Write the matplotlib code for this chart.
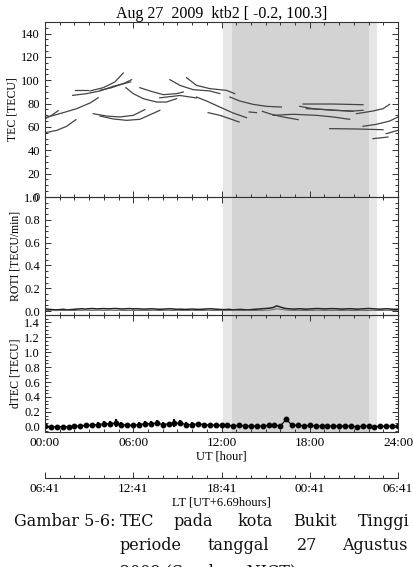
import numpy as np
import matplotlib
matplotlib.use('Agg')
import matplotlib.pyplot as plt
from matplotlib.ticker import MultipleLocator

plt.rcParams['font.family'] = ['Liberation Serif', 'DejaVu Serif']

# TEC arcs: hours UT, TEC [TECU]
arc_t = [
    [0.0, 0.45, 0.9],
    [0.0, 1.0, 2.15, 3.06, 3.62],
    [0.0, 0.8, 1.47, 2.1],
    [2.04, 2.94],
    [1.88, 2.83, 3.74, 4.64, 5.32, 5.82],
    [3.06, 3.96, 4.75, 5.32],
    [3.74, 4.53, 5.32, 5.89],
    [5.5, 6.0, 6.68, 7.58, 8.26, 8.94],
    [6.45, 7.13, 8.04, 8.94, 9.4],
    [7.8, 9.17, 10.3],
    [8.49, 9.17, 10.07, 11.2, 11.89],
    [9.62, 10.3, 11.2, 12.34, 12.9],
    [10.3, 10.98, 11.89, 12.79, 13.7],
    [11.09, 11.89, 12.57, 13.2],
    [12.57, 13.24, 14.15, 15.06, 16.07],
    [13.88, 14.38],
    [14.78, 15.39, 16.19, 17.21],
    [15.51, 16.87, 18.45, 19.58, 20.71],
    [17.32, 18.22, 19.58, 20.94, 21.62],
    [17.55, 19.58, 21.62],
    [17.77, 19.13, 20.94],
    [19.36, 21.17, 22.98],
    [21.17, 22.3, 22.98, 23.43],
    [21.62, 22.53, 23.43, 24.0],
    [22.3, 23.32],
    [23.2, 24.0],
    [3.28, 4.19, 5.09, 6.0, 6.79],
    [3.74, 4.64, 5.55, 6.45, 7.81],
]
arc_tec = [
    [67, 70, 74],
    [68, 71.4, 75.7, 80.6, 85.1],
    [55.1, 57.1, 60.6, 66.3],
    [92, 92],
    [87.1, 88.6, 90.9, 94.9, 97.1, 98.6],
    [90.9, 93.7, 98.6, 106.3],
    [91.4, 93.7, 97.1, 100.6],
    [93.7, 88.6, 84.3, 81.4, 81.4, 84.3],
    [93.7, 90.9, 87.7, 88.6, 90.0],
    [85.0, 87.0, 84.9],
    [100.6, 95.7, 92.0, 90.9, 88.6],
    [102.3, 95.7, 92.9, 91.4, 88.6],
    [85.7, 82.3, 77.1, 72.0, 68.0],
    [72.3, 70.0, 67.1, 64.3],
    [85.7, 82.3, 79.4, 77.7, 77.1],
    [72.9, 72.3],
    [73.4, 70.9, 68.6, 66.3],
    [70.0, 70.9, 70.0, 68.6, 66.6],
    [77.7, 75.7, 74.3, 73.7, 74.3],
    [79.7, 79.7, 79.1],
    [75.7, 74.9, 73.4],
    [58.6, 58.3, 57.7],
    [71.4, 73.7, 75.7, 79.4],
    [60.6, 62.3, 65.1, 68.6],
    [50.0, 51.4],
    [54.3, 57.1],
    [71.4, 69.4, 68.6, 70.0, 74.9],
    [69.4, 66.9, 65.7, 66.6, 74.3],
]

# ROTI [TECU/min], one value every 15 minutes
roti = [0.02, 0.015, 0.012, 0.01, 0.012, 0.015, 0.01, 0.012, 0.015, 0.018,
        0.02, 0.017, 0.02, 0.022, 0.018, 0.02, 0.021, 0.019, 0.02, 0.022,
        0.02, 0.018, 0.02, 0.021, 0.019, 0.02, 0.018, 0.016, 0.018, 0.02,
        0.017, 0.015, 0.016, 0.018, 0.02, 0.017, 0.015, 0.016, 0.014, 0.015,
        0.017, 0.015, 0.014, 0.016, 0.018, 0.02, 0.017, 0.015, 0.013, 0.012,
        0.015, 0.01, 0.012, 0.014, 0.012, 0.01, 0.012, 0.015, 0.017, 0.02,
        0.022, 0.025, 0.03, 0.045, 0.035, 0.025, 0.02, 0.018, 0.017, 0.02,
        0.018, 0.016, 0.018, 0.02, 0.022, 0.02, 0.018, 0.02, 0.021, 0.02,
        0.018, 0.017, 0.019, 0.02, 0.018, 0.016, 0.018, 0.02, 0.022, 0.02,
        0.018, 0.016, 0.018, 0.02, 0.017, 0.015, 0.016]
roti_b = [0.005, 0.004, 0.006, 0.003, 0.005, 0.004, 0.006, 0.005, 0.004, 0.006,
          0.005, 0.007, 0.006, 0.005, 0.007, 0.006, 0.005, 0.006, 0.007, 0.005,
          0.006, 0.005, 0.004, 0.006, 0.005, 0.004, 0.005, 0.006, 0.004, 0.005,
          0.006, 0.004, 0.005, 0.006, 0.005, 0.004, 0.006, 0.005, 0.004, 0.005,
          0.006, 0.004, 0.005, 0.004, 0.006, 0.005, 0.004, 0.005, 0.006, 0.004,
          0.005, 0.004, 0.006, 0.005, 0.004, 0.006, 0.005, 0.004, 0.006, 0.005,
          0.007, 0.008, 0.012, 0.02, 0.015, 0.01, 0.007, 0.006, 0.005, 0.006,
          0.005, 0.004, 0.006, 0.005, 0.007, 0.006, 0.005, 0.006, 0.005, 0.006,
          0.005, 0.004, 0.006, 0.005, 0.004, 0.005, 0.006, 0.005, 0.004, 0.006,
          0.005, 0.004, 0.005, 0.006, 0.005, 0.004, 0.005]

# dTEC [TECU], one value every 0.4 hour, with spread
dtec = [0.01, 0.0, 0.0, 0.0, 0.0, 0.01, 0.01, 0.02, 0.02, 0.03,
        0.04, 0.04, 0.05, 0.03, 0.02, 0.02, 0.03, 0.04, 0.04, 0.05,
        0.03, 0.04, 0.05, 0.05, 0.03, 0.03, 0.04, 0.03, 0.02, 0.02,
        0.02, 0.02, 0.01, 0.02, 0.01, 0.01, 0.01, 0.01, 0.02, 0.02,
        0.01, 0.1, 0.02, 0.02, 0.01, 0.02, 0.01, 0.01, 0.01, 0.01,
        0.01, 0.01, 0.01, 0.0, 0.01, 0.01, 0.0, 0.01, 0.01, 0.01, 0.01]
dtec_err = [0.01, 0.01, 0.01, 0.01, 0.01, 0.01, 0.02, 0.02, 0.03, 0.03,
            0.04, 0.04, 0.05, 0.03, 0.02, 0.02, 0.03, 0.04, 0.04, 0.04,
            0.03, 0.03, 0.05, 0.04, 0.03, 0.03, 0.03, 0.02, 0.02, 0.02,
            0.02, 0.01, 0.01, 0.02, 0.01, 0.01, 0.01, 0.01, 0.02, 0.02,
            0.01, 0.02, 0.02, 0.02, 0.01, 0.01, 0.01, 0.01, 0.01, 0.01,
            0.01, 0.01, 0.01, 0.01, 0.01, 0.01, 0.01, 0.01, 0.01, 0.01, 0.01]

# night shading (UT hours)
night_light = (12.1, 22.6)
night_dark = (12.7, 22.0)

ut_ticks = [0, 6, 12, 18, 24]
ut_labels = ['00:00', '06:00', '12:00', '18:00', '24:00']
lt_labels = ['06:41', '12:41', '18:41', '00:41', '06:41']

t_roti = np.arange(len(roti)) * 0.25
t_dtec = np.arange(len(dtec)) * 0.4

W, H = 413, 567
fig = plt.figure(figsize=(W / 100, H / 100), dpi=100)

def box(top, bottom):
    return [45 / W, 1 - bottom / H, 353 / W, (bottom - top) / H]

# background axes carries the shading behind all three panels
axbg = fig.add_axes(box(22, 432))
axbg.set_xlim(0, 24)
axbg.set_ylim(0, 1)
axbg.axvspan(*night_light, color='#e6e6e6', lw=0)
axbg.axvspan(*night_dark, color='#d3d3d3', lw=0)
axbg.axis('off')

ax1 = fig.add_axes(box(22, 197))
ax2 = fig.add_axes(box(197, 315))
ax3 = fig.add_axes(box(315, 432))

for t, v in zip(arc_t, arc_tec):
    ax1.plot(t, v, color='#444444', lw=0.9)
ax1.set_ylim(0, 150)
ax1.set_yticks(range(0, 141, 20))
ax1.yaxis.set_minor_locator(MultipleLocator(5))
ax1.set_ylabel('TEC [TECU]', fontsize=8.5, labelpad=2)
ax1.set_title('Aug 27  2009  ktb2 [ -0.2, 100.3]', fontsize=11.5, pad=3)

ax2.plot(t_roti, roti, color='#222222', lw=1.1, zorder=3)
ax2.plot(t_roti, roti_b, color='#666666', lw=0.7, zorder=3)
ax2.set_ylim(-0.035, 1.0)
ax2.set_yticks(np.arange(0, 1.01, 0.2))
ax2.yaxis.set_minor_locator(MultipleLocator(0.05))
ax2.set_ylabel('ROTI [TECU/min]', fontsize=8.5, labelpad=2)
# shading drawn again inside the ROTI panel, just under its traces
ax2.axvspan(*night_light, color='#e6e6e6', lw=0, zorder=2.2)
ax2.axvspan(*night_dark, color='#d3d3d3', lw=0, zorder=2.3)
ax2.set_zorder(3)

ax3.errorbar(t_dtec, dtec, yerr=dtec_err, fmt='o-', color='black', ms=3.2,
             lw=0.9, elinewidth=1.6, capsize=0)
ax3.set_ylim(-0.07, 1.5)
ax3.set_yticks(np.arange(0, 1.41, 0.2))
ax3.yaxis.set_minor_locator(MultipleLocator(0.05))
ax3.set_xlabel('UT [hour]', fontsize=9, labelpad=1)
ax3.set_ylabel('dTEC [TECU]', fontsize=8.5, labelpad=2)

for ax in (ax1, ax2, ax3):
    ax.patch.set_visible(False)
    ax.set_xlim(0, 24)
    ax.set_xticks(ut_ticks)
    ax.xaxis.set_minor_locator(MultipleLocator(1))
    ax.tick_params(which='both', direction='in', top=True, right=True,
                   labelsize=9, width=0.7, color='#333333')
    ax.tick_params(which='major', length=4)
    ax.tick_params(which='minor', length=2)
    for s in ax.spines.values():
        s.set_linewidth(0.8)
        s.set_color('#333333')
        s.set_zorder(4)

ax1.set_xticklabels([])
ax2.set_xticklabels([])
ax2.yaxis.set_major_formatter('{x:.1f}')
ax3.yaxis.set_major_formatter('{x:.1f}')
ax3.set_xticklabels(ut_labels, fontsize=9.5)

# local time axis
ax4 = fig.add_axes([45 / W, 1 - 478 / H, 353 / W, 0.001])
ax4.set_xlim(0, 24)
ax4.set_xticks(ut_ticks)
ax4.set_xticklabels(lt_labels, fontsize=9.5)
ax4.xaxis.set_minor_locator(MultipleLocator(1))
ax4.set_yticks([])
for k in ('top', 'left', 'right'):
    ax4.spines[k].set_visible(False)
ax4.spines['bottom'].set_linewidth(0.8)
ax4.spines['bottom'].set_color('#333333')
ax4.tick_params(which='both', direction='in', width=0.7, color='#333333')
ax4.tick_params(which='major', length=4)
ax4.tick_params(which='minor', length=2)
ax4.set_xlabel('LT [UT+6.69hours]', fontsize=9, labelpad=1)
ax4.patch.set_visible(False)

# caption
cap = dict(fontsize=11.5, family='DejaVu Serif', va='center', color='#111111')
fig.text(115 / W, 1 - 522 / H, 'Gambar 5-6:', ha='right', **cap)
for word, x in [('TEC', 120), ('pada', 173), ('kota', 238), ('Bukit', 293), ('Tinggi', 358)]:
    fig.text(x / W, 1 - 522 / H, word, ha='left', **cap)
for word, x in [('periode', 120), ('tanggal', 208), ('27', 297), ('Agustus', 342)]:
    fig.text(x / W, 1 - 545 / H, word, ha='left', **cap)
fig.text(120 / W, 1 - 572 / H, '2009 (Sumber: NICT)', ha='left', **cap)

fig.savefig('out.png', dpi=100)
